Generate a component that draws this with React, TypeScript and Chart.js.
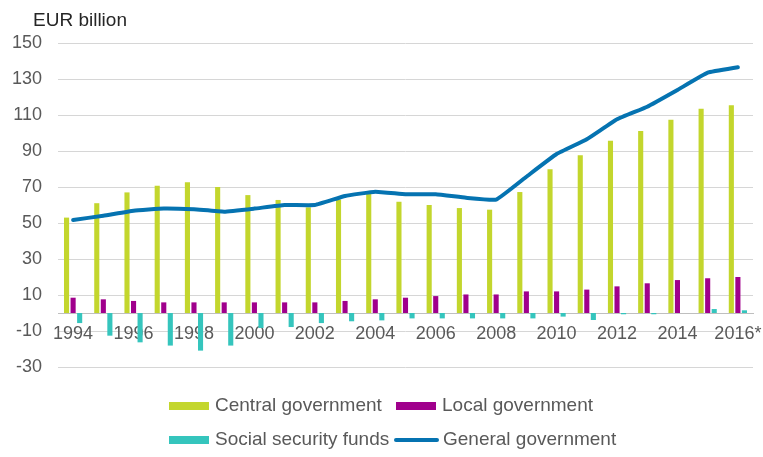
import React, { useEffect, useRef } from "react";
import { Chart, registerables } from "chart.js";

Chart.register(...registerables);

const years = [
  "1994", "1995", "1996", "1997", "1998", "1999", "2000", "2001", "2002", "2003", "2004", "2005",
  "2006", "2007", "2008", "2009", "2010", "2011", "2012", "2013", "2014", "2015", "2016*",
];

const centralGov = [
  53, 61, 67, 70.7, 72.6, 70, 65.5, 62.8, 58.7, 63, 66.5, 61.8,
  60, 58.3, 57.4, 67.2, 79.8, 87.6, 95.7, 101.1, 107.4, 113.5, 115.4,
];

const localGov = [
  8.5, 7.6, 6.7, 5.9, 5.9, 5.9, 5.9, 5.9, 5.9, 6.7, 7.6, 8.5,
  9.4, 10.3, 10.3, 12, 12, 13, 14.8, 16.5, 18.3, 19.3, 20,
];

const socialSecurity = [
  -5.6, -12.6, -16.3, -18.1, -20.9, -18.1, -8.3, -7.8, -5.6, -4.6, -4.1, -3,
  -3, -3, -3, -3, -2, -3.9, -0.7, -0.7, 0, 2.2, 1.5,
];

const generalGov = [
  51.7, 54, 56.8, 58.1, 57.6, 56.3, 58, 60, 60, 65, 67.4, 66,
  66, 64, 63, 75.7, 88.3, 96.5, 107.6, 114.6, 123.9, 133.5, 136.5,
];

const seriesLabels = ["Central government", "Local government", "Social security funds", "General government"];
const yTicksMin = -30;
const yTicksMax = 150;
const yStep = 20;
const unitLabel = "EUR billion";

const FONT = "'Liberation Sans', Arial, sans-serif";
const TEXT = "#595959";

const titlePlugin = {
  id: "unitTitle",
  afterDraw(chart: any) {
    const ctx = chart.ctx;
    ctx.save();
    ctx.font = `19px ${FONT}`;
    ctx.fillStyle = "#262626";
    ctx.textAlign = "left";
    ctx.textBaseline = "alphabetic";
    ctx.fillText(unitLabel, 33, 26);
    ctx.restore();
  },
};

const legendPlugin = {
  id: "customLegend",
  afterDraw(chart: any) {
    const ctx = chart.ctx;
    const cols = [169, 396];
    const rows = [406, 440];
    ctx.save();
    ctx.font = `19px ${FONT}`;
    ctx.textBaseline = "middle";
    ctx.textAlign = "left";
    chart.data.datasets.forEach((ds: any, i: number) => {
      const x = cols[i % 2];
      const y = rows[Math.floor(i / 2)];
      if (ds.type === "line") {
        ctx.strokeStyle = ds.borderColor;
        ctx.lineWidth = 4;
        ctx.lineCap = "round";
        ctx.beginPath();
        ctx.moveTo(x, y);
        ctx.lineTo(x + 41, y);
        ctx.stroke();
        ctx.fillStyle = TEXT;
        ctx.fillText(ds.label, x + 47, y);
      } else {
        ctx.fillStyle = ds.backgroundColor;
        ctx.fillRect(x, y - 4, 40, 8);
        ctx.fillStyle = TEXT;
        ctx.fillText(ds.label, x + 46, y);
      }
    });
    ctx.restore();
  },
};

export default function App() {
  const ref = useRef<HTMLCanvasElement | null>(null);

  useEffect(() => {
    if (!ref.current) return;
    const chart = new Chart(ref.current, {
      type: "bar",
      data: {
        labels: years,
        datasets: [
          {
            type: "bar",
            label: seriesLabels[0],
            data: centralGov,
            backgroundColor: "#c3d62d",
            categoryPercentage: 0.65,
            barPercentage: 0.78,
            order: 1,
          },
          {
            type: "bar",
            label: seriesLabels[1],
            data: localGov,
            backgroundColor: "#a0008c",
            categoryPercentage: 0.65,
            barPercentage: 0.78,
            order: 1,
          },
          {
            type: "bar",
            label: seriesLabels[2],
            data: socialSecurity,
            backgroundColor: "#35c5bd",
            categoryPercentage: 0.65,
            barPercentage: 0.78,
            order: 1,
          },
          {
            type: "line",
            label: seriesLabels[3],
            data: generalGov,
            borderColor: "#0573b1",
            backgroundColor: "#0573b1",
            borderWidth: 4,
            pointRadius: 0,
            tension: 0.1,
            borderCapStyle: "round",
            borderJoinStyle: "round",
            order: -1,
          } as any,
        ],
      },
      options: {
        animation: false,
        responsive: true,
        maintainAspectRatio: false,
        layout: { padding: { left: 12, right: 10, top: 43, bottom: 90 } },
        plugins: {
          legend: { display: false },
          tooltip: { enabled: false },
          title: { display: false },
        },
        scales: {
          x: {
            type: "category",
            position: { y: 0 } as any,
            offset: true,
            grid: { display: false, drawTicks: false },
            border: { display: true, color: "#bfbfbf", width: 1 },
            afterFit: (s: any) => {
              s.paddingLeft = 0;
              s.paddingRight = 0;
            },
            ticks: {
              autoSkip: false,
              maxRotation: 0,
              minRotation: 0,
              padding: 10,
              color: TEXT,
              font: { family: FONT, size: 18 },
              callback: (_v: any, i: number) => (i % 2 === 0 ? years[i] : ""),
            },
          },
          y: {
            min: yTicksMin,
            max: yTicksMax,
            grid: { color: "#d6d6d6", drawTicks: false, lineWidth: 1 },
            border: { display: false },
            afterFit: (s: any) => {
              s.width = 46;
            },
            ticks: {
              stepSize: yStep,
              padding: 16,
              color: TEXT,
              font: { family: FONT, size: 18 },
            },
          },
        },
      },
      plugins: [titlePlugin, legendPlugin],
    });
    return () => chart.destroy();
  }, []);

  return (
    <div style={{ position: "fixed", left: 0, top: 0, width: 763, height: 457, background: "#fff" }}>
      <canvas ref={ref} />
    </div>
  );
}
